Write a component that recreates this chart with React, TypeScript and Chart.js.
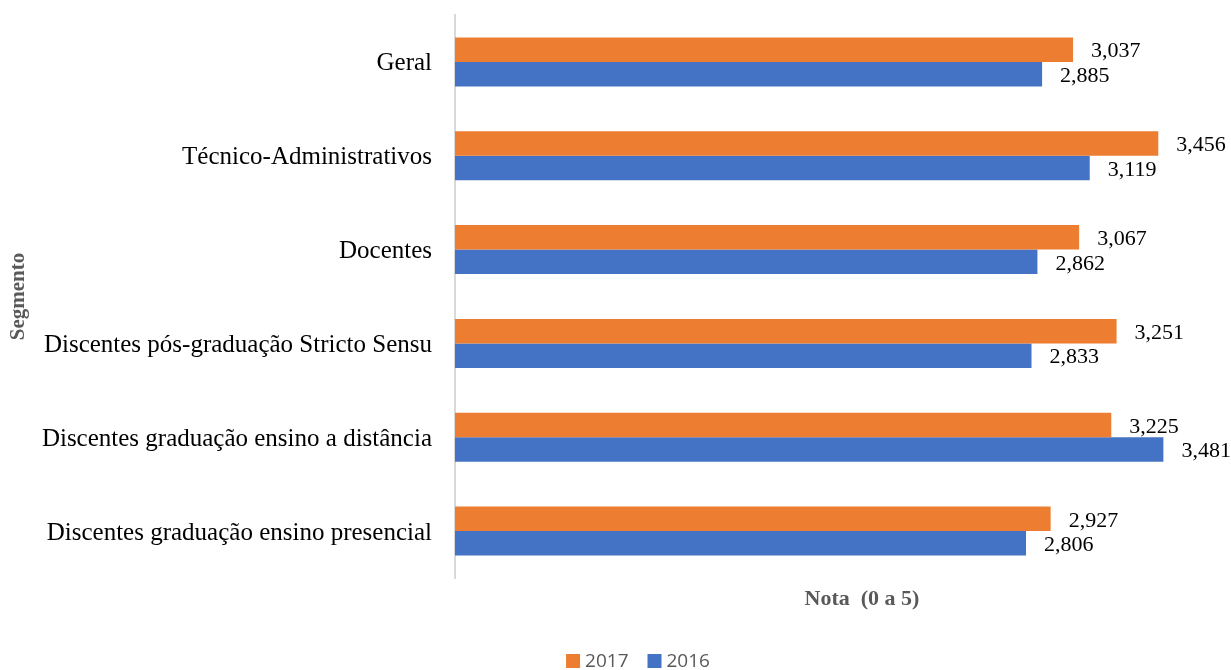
import React, { useEffect, useRef } from "react";
import { Chart, registerables } from "chart.js";

Chart.register(...registerables);

const categories = [
  "Geral",
  "Técnico-Administrativos",
  "Docentes",
  "Discentes pós-graduação Stricto Sensu",
  "Discentes graduação ensino a distância",
  "Discentes graduação ensino presencial",
];
const values2017 = [3.037, 3.456, 3.067, 3.251, 3.225, 2.927];
const values2016 = [2.885, 3.119, 2.862, 2.833, 3.481, 2.806];
const seriesLabels = ["2017", "2016"];
const seriesColors = ["#ED7D31", "#4472C4"];
const xTitle = "Nota  (0 a 5)";
const yTitle = "Segmento";

const fmt = (v: number) => v.toFixed(3).replace(".", ",");

const dataLabelPlugin = {
  id: "dataLabels",
  afterDatasetsDraw(chart: any) {
    const ctx = chart.ctx;
    ctx.save();
    ctx.font = "22px 'Liberation Serif', 'Times New Roman', serif";
    ctx.fillStyle = "#000000";
    ctx.textAlign = "left";
    ctx.textBaseline = "middle";
    chart.data.datasets.forEach((ds: any, i: number) => {
      const meta = chart.getDatasetMeta(i);
      meta.data.forEach((el: any, j: number) => {
        ctx.fillText(fmt(ds.data[j]), el.x + 18, el.y + 2);
      });
    });
    ctx.restore();
  },
};

const legendPlugin = {
  id: "customLegend",
  afterDraw(chart: any) {
    const ctx = chart.ctx;
    ctx.save();
    ctx.font = "19px 'Open Sans', 'Liberation Sans', Arial, sans-serif";
    ctx.textBaseline = "middle";
    const box = 14;
    const gapBoxText = 5;
    const gapItems = 19;
    const items = chart.data.datasets.map((ds: any) => ({
      label: ds.label,
      color: ds.backgroundColor,
      w: box + gapBoxText + ctx.measureText(ds.label).width,
    }));
    const total =
      items.reduce((s: number, it: any) => s + it.w, 0) + gapItems * (items.length - 1);
    let x = chart.width / 2 - total / 2;
    const cy = 661;
    items.forEach((it: any) => {
      ctx.fillStyle = it.color;
      ctx.fillRect(x, cy - box / 2, box, box);
      ctx.fillStyle = "#595959";
      ctx.textAlign = "left";
      ctx.fillText(it.label, x + box + gapBoxText, cy + 1);
      x += it.w + gapItems;
    });
    ctx.restore();
  },
};

export default function App() {
  const canvasRef = useRef<HTMLCanvasElement | null>(null);

  useEffect(() => {
    if (!canvasRef.current) return;
    const chart = new Chart(canvasRef.current, {
      type: "bar",
      data: {
        labels: categories,
        datasets: [
          {
            label: seriesLabels[0],
            data: values2017,
            backgroundColor: seriesColors[0],
            borderWidth: 0,
            categoryPercentage: 0.522,
            barPercentage: 1,
          },
          {
            label: seriesLabels[1],
            data: values2016,
            backgroundColor: seriesColors[1],
            borderWidth: 0,
            categoryPercentage: 0.522,
            barPercentage: 1,
          },
        ],
      },
      options: {
        indexAxis: "y",
        animation: false,
        responsive: false,
        maintainAspectRatio: false,
        layout: { padding: { top: 15, right: 7, left: 0, bottom: 0 } },
        plugins: {
          legend: { display: false },
          tooltip: { enabled: false },
        },
        scales: {
          x: {
            min: 0,
            max: 4,
            grid: { display: false, drawTicks: false },
            border: { display: false },
            ticks: { display: false },
            title: {
              display: true,
              text: xTitle,
              color: "#595959",
              font: { family: "'Liberation Serif', 'Times New Roman', serif", size: 22, weight: "bold" },
              padding: { top: 8, bottom: 57 },
            },
            afterFit: (scale: any) => {
              scale.height = 92;
              scale.paddingLeft = 0;
              scale.paddingRight = 0;
            },
          },
          y: {
            grid: { display: false, drawTicks: false },
            border: { display: true, color: "#D9D9D9", width: 2 },
            ticks: {
              color: "#000000",
              padding: 23,
              labelOffset: 2,
              font: { family: "'Liberation Serif', 'Times New Roman', serif", size: 25 },
            },
            title: {
              display: true,
              text: yTitle,
              color: "#595959",
              font: { family: "'Liberation Serif', 'Times New Roman', serif", size: 21, weight: "bold" },
              padding: { top: 6, bottom: 0 },
            },
            afterFit: (scale: any) => {
              scale.width = 455;
              scale.paddingTop = 0;
              scale.paddingBottom = 0;
            },
          },
        },
      },
      plugins: [dataLabelPlugin, legendPlugin],
    });
    return () => chart.destroy();
  }, []);

  return (
    <div
      style={{
        position: "fixed",
        left: 0,
        top: 0,
        width: 1231,
        height: 670,
        overflow: "hidden",
        background: "#ffffff",
      }}
    >
      <canvas ref={canvasRef} width={1276} height={670} style={{ display: "block" }} />
    </div>
  );
}
